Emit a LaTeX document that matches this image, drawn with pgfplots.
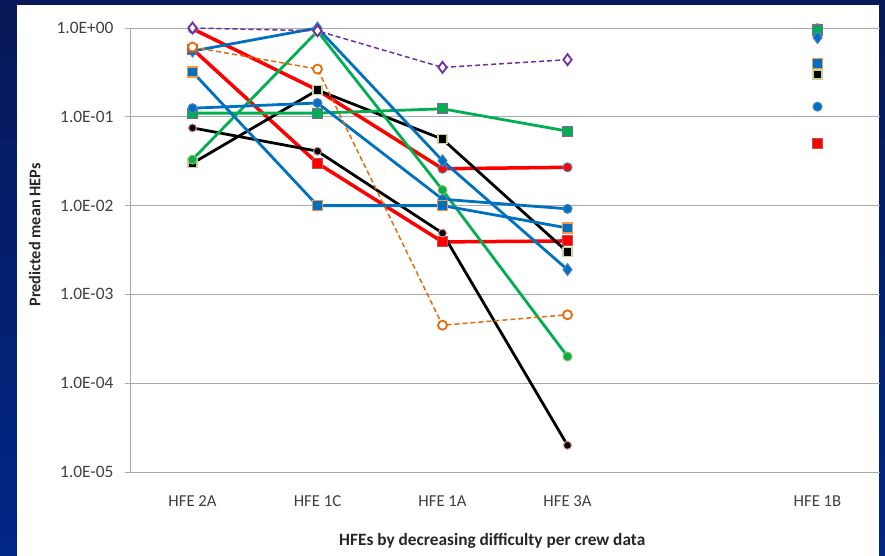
\documentclass[border=0pt]{standalone}
\usepackage{pgfplots}
\pgfplotsset{compat=1.18}
\usepackage{pgfplotstable}
\usepackage{fontspec}
\setmainfont{Carlito}
\definecolor{navyA}{RGB}{8,24,88}
\definecolor{navyB}{RGB}{0,38,135}
\definecolor{xblue}{RGB}{0,112,192}
\definecolor{xlblue}{RGB}{79,129,189}
\definecolor{xred}{RGB}{255,0,0}
\definecolor{xdred}{RGB}{192,80,77}
\definecolor{xgreen}{RGB}{0,176,80}
\definecolor{xlgreen}{RGB}{155,187,89}
\definecolor{xpgreen}{RGB}{195,214,155}
\definecolor{xpurple}{RGB}{112,48,160}
\definecolor{xlpurple}{RGB}{128,100,162}
\definecolor{xorange}{RGB}{228,108,10}
\definecolor{xlorange}{RGB}{247,150,70}
\definecolor{xpink}{RGB}{217,150,148}
\definecolor{gridgray}{RGB}{170,170,170}
\definecolor{ticktext}{RGB}{64,64,64}
\pgfplotstableread{
x  pd    oc      bd     bs     bc      rc     rs      gs     gc     ks     kc
0  1.0   0.61    0.55   0.32   0.125   0.98   0.58    0.11   0.033  0.030  0.075
1  0.93  0.345   1.0    0.010  0.143   0.20   0.030   0.11   0.92   0.20   0.041
2  0.36  0.00045 0.032  0.010  0.0118  0.026  0.0039  0.123  0.015  0.056  0.0049
3  0.44  0.00059 0.0019 0.0056 0.0092  0.027  0.0040  0.069  0.0002 0.0030 0.00002
4  nan   nan     nan    nan    nan     nan    nan     nan    nan    nan    nan
5  nan   nan     0.78   0.40   0.13    nan    0.05    0.95   1.0    0.30   1.0
}\datatab
\begin{document}
\begin{tikzpicture}
\useasboundingbox (0pt,0pt) rectangle (885pt,-556pt);
\shade[top color=navyA,bottom color=navyB] (0pt,0pt) rectangle (885pt,-556pt);
\fill[white] (17pt,-5pt) rectangle (879pt,-556pt);
\begin{axis}[
  at={(130pt,-472pt)}, anchor=south west,
  scale only axis, width=750pt, height=444pt,
  ymode=log, ymin=1e-5, ymax=1,
  xmin=-0.5, xmax=5.5,
  axis x line*=bottom, axis y line*=left,
  axis line style={gridgray,line width=0.8pt,-},
  ymajorgrids, major grid style={gridgray,line width=0.8pt},
  ytick={1e-5,1e-4,1e-3,1e-2,1e-1,1},
  yticklabels={1.0E-05,1.0E-04,1.0E-03,1.0E-02,1.0E-01,1.0E+00},
  yminorticks=false,
  xtick={0,1,2,3,5},
  xticklabels={HFE 2A,HFE 1C,HFE 1A,HFE 3A,HFE 1B},
  minor xtick={-0.5,0.5,1.5,2.5,3.5,4.5,5.5},
  tick align=outside,
  x tick style={draw=none},
  y tick style={gridgray,line width=0.8pt},
  minor x tick style={gridgray,line width=0.8pt},
  major tick length=5pt, minor tick length=6pt,
  yticklabel style={xshift=-8pt,font=\fontsize{17.4}{18}\selectfont, text=ticktext},
  xticklabel style={yshift=-15pt,font=\fontsize{16.7}{18}\selectfont, text=ticktext},
  xlabel={\textbf{HFEs by decreasing difficulty per crew data}},
  ylabel={\textbf{Predicted mean HEPs}},
  every axis y label/.style={at={(axis description cs:-0.127,0.534)},rotate=90,anchor=center,font=\fontsize{16.3}{18}\selectfont,text=black!85},
  every axis x label/.style={at={(axis description cs:0.483,-0.155)},anchor=center,font=\fontsize{17.3}{18}\selectfont,text=black!85},
  unbounded coords=jump,
  clip=false,
]
% red circle
\addplot[xred,line width=3.5pt,mark=*,mark size=4.5pt,mark options={fill=xred,draw=xlblue,line width=1pt,solid}] table[x=x,y=rc]{\datatab};
% red square
\addplot[xred,line width=3.5pt,mark=square*,mark size=5pt,mark options={fill=xred,draw=xdred,line width=1pt,solid}] table[x=x,y=rs]{\datatab};
% black square
\addplot[black,line width=2.8pt,mark=square*,mark size=4.5pt,mark options={fill=black,draw=xpgreen,line width=1.2pt,solid}] table[x=x,y=ks]{\datatab};
% black circle
\addplot[black,line width=2.8pt,mark=*,mark size=4pt,mark options={fill=black,draw=xpink,line width=1pt,solid}] table[x=x,y=kc]{\datatab};
% green circle
\addplot[xgreen,line width=2.8pt,mark=*,mark size=4.5pt,mark options={fill=xgreen,draw=xlgreen,line width=1pt,solid}] table[x=x,y=gc]{\datatab};
% green square
\addplot[xgreen,line width=2.8pt,mark=square*,mark size=5pt,mark options={fill=xgreen,draw=xlpurple,line width=1.2pt,solid}] table[x=x,y=gs]{\datatab};
% blue circle
\addplot[xblue,line width=2.8pt,mark=*,mark size=4.5pt,mark options={fill=xblue,draw=xlblue,line width=1pt,solid}] table[x=x,y=bc]{\datatab};
% blue square
\addplot[xblue,line width=2.8pt,mark=square*,mark size=5pt,mark options={fill=xblue,draw=xlorange,line width=1.2pt,solid}] table[x=x,y=bs]{\datatab};
% blue diamond
\addplot[xblue,line width=2.8pt,mark=diamond*,mark size=6pt,mark options={fill=xblue,draw=xlblue,line width=1pt,solid}] table[x=x,y=bd]{\datatab};
% orange dashed open circle
\addplot[xorange,line width=1.5pt,dash pattern=on 5pt off 3pt,mark=*,mark size=4.5pt,mark options={fill=white,draw=xorange,line width=1.8pt,solid}] table[x=x,y=oc]{\datatab};
% purple dashed open diamond
\addplot[xpurple,line width=1.5pt,dash pattern=on 5pt off 3pt,mark=diamond*,mark size=5.5pt,mark options={fill=white,draw=xpurple,line width=1.8pt,solid}] table[x=x,y=pd]{\datatab};
\end{axis}
\end{tikzpicture}
\end{document}
